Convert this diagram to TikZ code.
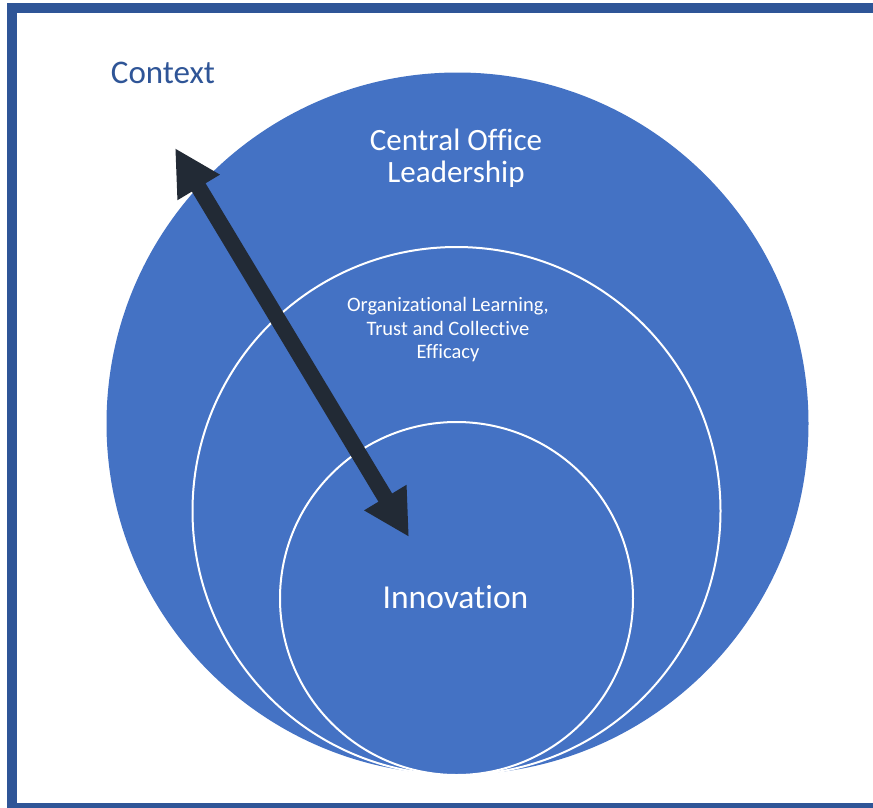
\documentclass[tikz,border=0pt]{standalone}
\usepackage{fontspec}
\setmainfont{Carlito}[Ligatures=NoCommon]
\usetikzlibrary{arrows.meta}
\definecolor{circblue}{RGB}{68,114,196}
\definecolor{framblue}{RGB}{47,85,151}
\definecolor{ctxblue}{RGB}{47,85,151}
\definecolor{arrowdark}{RGB}{34,42,53}
\tikzset{
  ring/.style={fill=circblue, draw=white, line width=2pt},
  lbl/.style={text=white, inner sep=0pt, align=center},
  duo/.style={arrowdark, line width=16pt,
    {Triangle[length=46pt,width=46pt]}-{Triangle[length=46pt,width=46pt]}}
}
\begin{document}
\begin{tikzpicture}[x=1pt,y=-1pt]
\useasboundingbox (0,0) rectangle (873,807);
\clip (0,0) rectangle (873,807);
\fill[white] (0,0) rectangle (873,807);
\draw[framblue, line width=10pt] (900,7.5) -- (12,7.5) -- (12,807.5) -- (900,807.5);
% circles
\fill[circblue] (457.5,423.5) circle[radius=351];
\draw[ring] (456.5,511) circle[radius=264];
\draw[ring] (456.5,598.5) circle[radius=176.5];
% arrow
\coordinate (top) at (175,148);
\coordinate (bot) at (409,537);
\draw[duo] (top) -- (bot);
% texts
\node[anchor=base, inner sep=0pt, text=ctxblue, font=\fontsize{33}{38}\selectfont] (ctx) at (163,83) {Context};
\node[lbl, font=\fontsize{31}{32}\selectfont] (col) at (456,158) {Central Office\\Leadership};
\node[lbl, font=\fontsize{20.5}{23.5}\selectfont] (olt) at (448,330) {Organizational Learning,\\Trust and Collective\\Efficacy};
\node[lbl, anchor=base, font=\fontsize{33.5}{39}\selectfont] (inn) at (455.5,608) {Innovation};
\end{tikzpicture}
\end{document}
